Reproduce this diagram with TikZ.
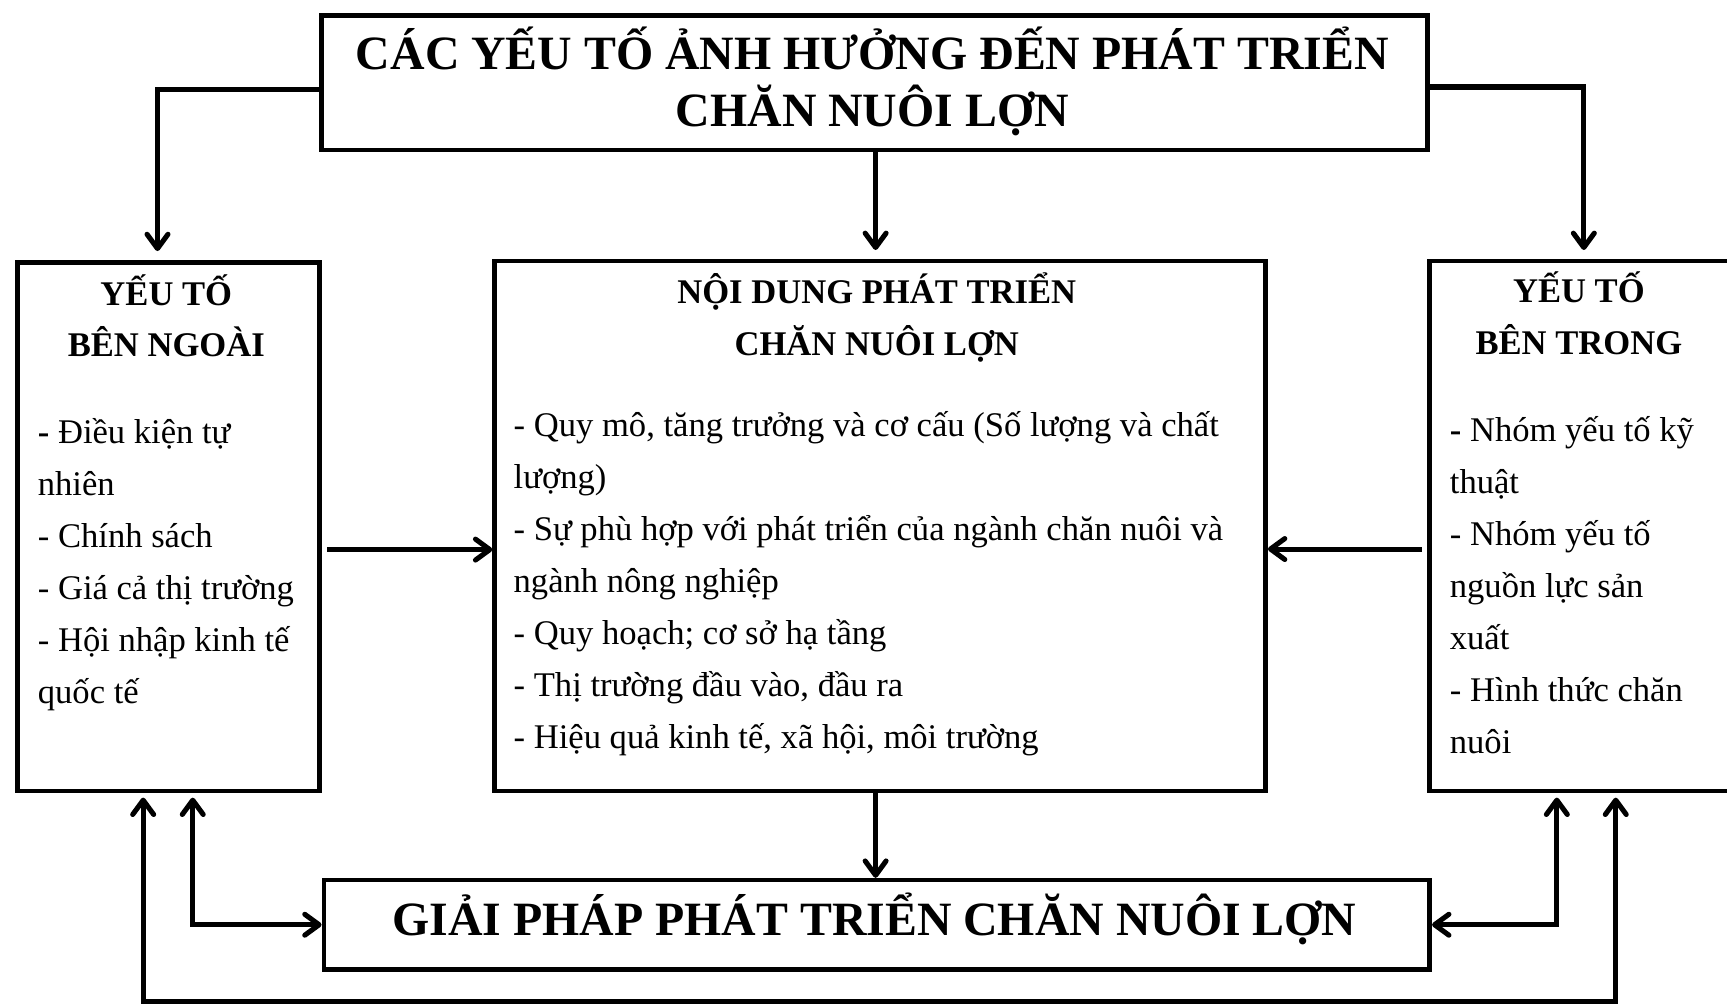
\documentclass[tikz,border=0pt]{standalone}
\usepackage{fontspec}
\setmainfont{Liberation Serif}
\usetikzlibrary{arrows.meta,calc}
\begin{document}
\begin{tikzpicture}[x=0.5pt,y=-0.5pt,
  box/.style={draw, line width=2.1pt, inner sep=0pt, anchor=north west},
  body/.style={font=\fontsize{15.7}{23.5}\selectfont, inner sep=0pt, anchor=base west},
  hdr/.style={font=\fontsize{15.7}{23.5}\selectfont\bfseries, inner sep=0pt, anchor=base},
  ttl/.style={font=\fontsize{21.7}{26}\selectfont\bfseries, inner sep=0pt, anchor=base},
  tipstyle/.tip={Straight Barb[length=6.5pt,width=9.5pt,round]},
  conn/.style={line width=2.3pt, -tipstyle},
  dconn/.style={line width=2.3pt, tipstyle-tipstyle}]
\useasboundingbox (0,0) rectangle (1568,913);

% boxes
\node[box, minimum width=502pt, minimum height=61pt] (tb) at (290,12) {};
\node[box, minimum width=137pt, minimum height=240pt] (lb) at (14,236) {};
\node[box, minimum width=350pt, minimum height=240.5pt] (mb) at (447,235) {};
\node[box, minimum width=137pt, minimum height=240.5pt] (rb) at (1296,235) {};
\node[box, minimum width=502pt, minimum height=40.5pt] (bb) at (292,797) {};

% titles
\node[ttl] (t1) at (792,63) {CÁC YẾU TỐ ẢNH HƯỞNG ĐẾN PHÁT TRIỂN};
\node[ttl] (t2) at (792,115) {CHĂN NUÔI LỢN};
\node[ttl] (t3) at (794,849) {GIẢI PHÁP PHÁT TRIỂN CHĂN NUÔI LỢN};

% headers
\node[hdr] (h1) at (151,277) {YẾU TỐ};
\node[hdr] (h2) at (151,324) {BÊN NGOÀI};
\node[hdr] (h3) at (796,275.5) {NỘI DUNG PHÁT TRIỂN};
\node[hdr] (h4) at (796,322.5) {CHĂN NUÔI LỢN};
\node[hdr] (h5) at (1433.5,275) {YẾU TỐ};
\node[hdr] (h6) at (1433.5,322) {BÊN TRONG};

% body texts
\foreach \txt [count=\i] in {{\textbf{-} Điều kiện tự},nhiên,- Chính sách,- Giá cả thị trường,- Hội nhập kinh tế,quốc tế}
  \node[body] (L\i) at (34,{402.5+47.2*(\i-1)}) {\txt};
\foreach \txt [count=\i] in {{- Quy mô, tăng trưởng và cơ cấu (Số lượng và chất},lượng),{- Sự phù hợp với phát triển của ngành chăn nuôi và},ngành nông nghiệp,- Quy hoạch; cơ sở hạ tầng,{- Thị trường đầu vào, đầu ra},{- Hiệu quả kinh tế, xã hội, môi trường}}
  \node[body] (M\i) at (466,{396.5+47.2*(\i-1)}) {\txt};
\foreach \txt [count=\i] in {{\textbf{-} Nhóm yếu tố kỹ},thuật,- Nhóm yếu tố,nguồn lực sản,xuất,- Hình thức chăn,nuôi}
  \node[body] (R\i) at (1316,{401+47.2*(\i-1)}) {\txt};

% connectors
\draw[conn, shorten >=4pt] (tb.west |- 0,81) -| (143,0 |- lb.north);
\draw[conn, shorten >=4pt] (tb.east |- 0,79) -| (1438,0 |- rb.north);
\draw[conn, shorten >=4pt] (795,0 |- tb.south) -- (795,0 |- mb.north);
\draw[conn, shorten <=2.5pt] (lb.east |- 0,499) -- (mb.west |- 0,499);
\draw[conn, shorten <=2.5pt] (rb.west |- 0,498.5) -- (mb.east |- 0,498.5);
\draw[conn] (795,0 |- mb.south) -- (795,0 |- bb.north);
\draw[dconn, shorten >=2pt] (bb.west) -| (175,0 |- lb.south);
\draw[dconn, shorten >=2pt] (bb.east) -| (1413.5,0 |- rb.south);
\coordinate (c1) at (130,909.5);
\coordinate (c2) at (1467,909.5);
\draw[dconn, shorten <=2pt, shorten >=2pt] (c1 |- lb.south) -- (c1) -- (c2) -- (c2 |- rb.south);
\end{tikzpicture}
\end{document}
